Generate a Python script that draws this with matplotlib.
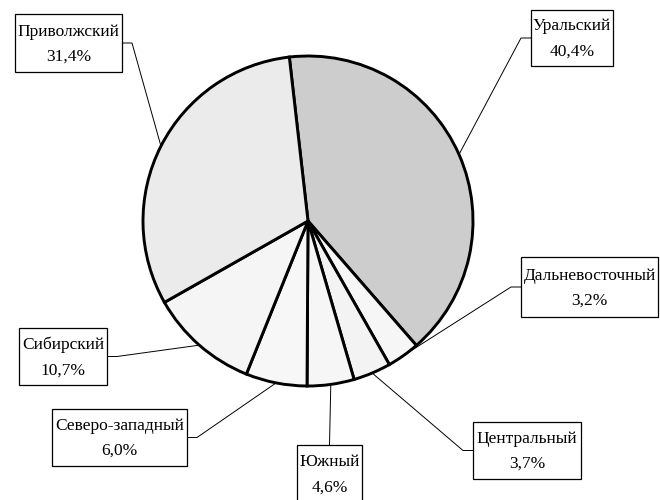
import numpy as np
import matplotlib
matplotlib.use('Agg')
import matplotlib.pyplot as plt
from matplotlib.patches import Rectangle

# data: federal districts, clockwise from the top
regions = ['Уральский', 'Дальневосточный', 'Центральный', 'Южный',
           'Северо-западный', 'Сибирский', 'Приволжский']
shares = [40.4, 3.2, 3.7, 4.6, 6.0, 10.7, 31.4]
fills = ['#cdcdcd', '#f6f6f6', '#f3f3f3', '#f6f6f6', '#f7f7f7', '#f5f5f5', '#ebebeb']

# label boxes in pixel coords: left, top, right, bottom, side the leader leaves from
boxes = [(531, 10, 613, 66, 'left'),
         (521, 257, 658, 317, 'left'),
         (473, 422, 581, 479, 'left'),
         (297, 445, 362, 503, 'top'),
         (52, 409, 187, 466, 'right'),
         (19, 328, 107, 385, 'right'),
         (15, 14, 122, 72, 'right')]

center = (308, 221)
radius = 165

fig = plt.figure(figsize=(6.6, 5), dpi=100)
ax = fig.add_axes([0, 0, 1, 1])

# y is inverted, so counterclock=True in data is clockwise on screen
wedges, _ = ax.pie(shares, colors=fills, startangle=-96.5, counterclock=True,
                   center=center, radius=radius, frame=True,
                   wedgeprops=dict(edgecolor='black', linewidth=2.1))
ax.set_xlim(0, 660)
ax.set_ylim(500, 0)
ax.axis('off')

for w, name, val, (l, t, r, b, side) in zip(wedges, regions, shares, boxes):
    mid = np.deg2rad((w.theta1 + w.theta2) / 2)
    ax_pt = (center[0] + radius * np.cos(mid), center[1] + radius * np.sin(mid))
    ym = (t + b) / 2
    if side == 'left':
        xs = [l, l - 10, ax_pt[0]]
        ys = [ym, ym, ax_pt[1]]
    elif side == 'right':
        xs = [r, r + 10, ax_pt[0]]
        ys = [ym, ym, ax_pt[1]]
    else:
        xs = [(l + r) / 2, ax_pt[0]]
        ys = [t, ax_pt[1]]
    ax.plot(xs, ys, color='black', linewidth=0.7)
    ax.add_patch(Rectangle((l, t), r - l, b - t, facecolor='white',
                           edgecolor='black', linewidth=0.9, zorder=3))
    txt = name + '\n' + ('%.1f' % val).replace('.', ',') + '%'
    ax.text((l + r) / 2, (t + b) / 2 + 1, txt, ha='center', va='center',
            fontsize=12.5, family='Liberation Serif', linespacing=1.75, zorder=4)

fig.savefig('out.png', dpi=100)
